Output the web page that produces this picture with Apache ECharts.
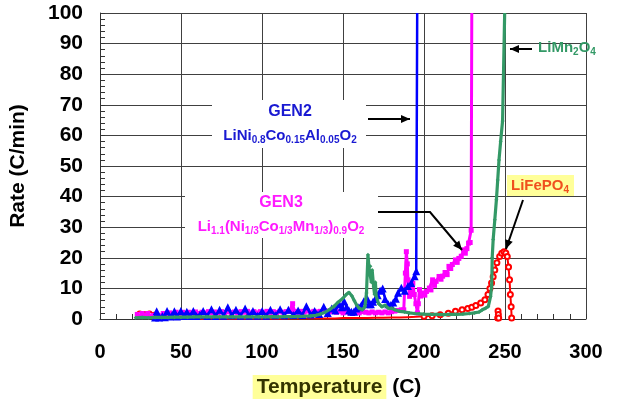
<!DOCTYPE html>
<html><head><meta charset="utf-8">
<script src="https://cdn.jsdelivr.net/npm/echarts@6/dist/echarts.min.js"></script>
<style>html,body{margin:0;padding:0;background:#fff}#c{width:618px;height:408px}</style>
</head><body><div id="c"></div>
<script>
// ---- data (temperature in C, rate in C/min) ----
const xTickValues = [0, 50, 100, 150, 200, 250, 300];
const yTickValues = [0, 10, 20, 30, 40, 50, 60, 70, 80, 90, 100];

const gen2Temp = [34,35,36.5,38.5,40,41.4,43,44.5,45.9,47.5,49.9,51.8,53.6,55.6,57.6,59.6,61.6,63.7,66.2,68.8,71.3,73.8,76.3,78.9,81.4,83.9,86.7,89.6,92,94.4,97.2,100.1,102.6,105.2,108.2,111.2,113.8,116.3,119.3,122.3,124.9,127.4,130,132.5,135.3,138.1,140.6,143,145.3,147.7,149.3,150.7,152.2,153.7,155.2,156.7,158.2,159.8,161.3,162.8,164.8,166,167.2,168.5,169.9,171.4,172.9,174.5,176,178,179.5,181,182.6,184,186,188.1,190.1,192.1,194.2,195.2,195.8];
const gen2Rate = [0.5,2.5,0.5,1,0.6,2.6,0.8,1.2,2.5,0.8,2.6,1,2.4,1,2.6,1,1.4,2.6,1,3.2,1,3,1.1,3.8,1.2,3,1.1,3.4,1.1,2.6,1.1,2.6,1.1,3,1.2,3.2,1.2,3,1.3,2.8,1.3,4.2,1.5,2.6,1.6,4,2,3.4,2.8,4.8,3.8,5.8,4,2.8,2.4,2.4,3.4,3.8,4.5,5.8,6.8,4.8,4.8,5.6,6.5,7.8,9.2,10,6.5,4.8,4.6,5.4,6.6,8.6,10.2,9.2,10.8,11.8,14,15.6,100];

const gen3Temp = [23,25,26,28,29.5,31,33,35,37,39,41,43,45,47,49,51,53,55,57,59,61,63,65,67,69,71,73,75,77,79,81,83,85,87,89,91,93,95,97,99,101,103,105,107,109,111,113,115,117,118.9,120,122,124,126,128,130,132,134,136,138,140,142,144,146,148,150,152,154,156,158,160,162,164,166,168,170,172,174,176,178,180,182,184,186,187.5,188.5,189.1,189.7,190.1,191.1,192,193.1,194,195,196,196.5,197.2,198,199.2,200.5,201.5,203.3,204.3,205.3,206.5,207.5,209.3,210.5,211.5,213,214.3,215.4,216.5,217.5,219.4,220.5,221.5,223,224.5,225.5,226.5,227.5,228.5,229.1,229.5];
const gen3Rate = [1.5,0.8,1.8,1.2,1.8,0.8,1.2,1.5,1,1.8,1.2,2,1.5,2.2,1.5,2.2,1.8,2.2,1.8,2.3,1.8,2.2,2,2.4,2,2.3,2,2.4,2,2.4,2,2.3,2,2.4,2.2,2.5,2,2.4,2,2.4,2.1,2.5,2,2.4,2.1,2.5,2.2,2.4,2.5,5,2.5,2.2,2.5,2.2,2.6,2.2,2.5,2.3,2.5,2.4,2.6,2.4,2.6,2.2,2.5,2,2.4,2,1.8,2.2,2,2.4,2.2,2,2.3,2,2.2,2,2.3,2,2.4,2.6,2.8,3,3,15,22,18,12.8,7.4,9,11.7,8,5,2,5,9.6,7.5,8.5,7.8,9,10.1,9.5,12.8,11,12.3,13.9,13,14,15.2,14.5,17.2,16.5,17.8,19.3,18.5,19.8,20.5,22.6,21.5,23,24.8,25,29,100];

const lfpTemp = [23,24.5,26,27.5,29,30.5,32,33.5,35,37,39,42,46,50,55,60,65,70,75,80,85,90,95,100,105,110,115,120,125,130,135,140,145,150,155,160,165,170,175,180,185,190,195,200,205,210,215,219.4,223.5,227,229.5,232,235,237.6,239.5,240.7,241.7,242.7,243.7,245,246.7,248,249.4,250.5,251.4,252.2,252.8,253.3,253.8,254.1];
const lfpRate = [0.8,1.6,0.6,1.5,0.7,1.6,0.6,1.2,0.5,0.5,0.3,0.2,0.2,0.2,0.2,0.1,0.2,0.1,0.2,0.1,0.2,0.1,0.2,0.1,0.2,0.1,0.2,0.2,0.2,0.2,0.2,0.2,0.2,0.3,0.3,0.3,0.3,0.4,0.4,0.5,0.5,0.6,0.7,0.9,1.1,1.4,1.9,2.5,3,3.4,3.8,4.4,5.2,6.3,8,10,11.8,13.8,16,18.4,20.4,21.5,22,21.6,20.4,17,12.8,8,4,0.3];
const lfpBlobTemp = [245.5,245.7,245.9,246.1];
const lfpBlobRate = [0.3,2.6,1.5,0.3];

const lmoTemp = [22,26,30,34,38,42,46,50,54,58,62,66,70,74,78,82,86,90,94,98,102,106,110,114,118,122,126,130,133.5,136,139,142,144.6,147,150,152,153.7,155.5,157,158.5,160,162,163.5,164.5,165.4,166,166.9,167.5,168,168.9,169.5,170,170.5,172,174,176,178,180,182,185,188,191,194,197,200,204,208,212,216,220,224,228,231,234,236,238,239.7,241.1,241.8,242.1,242.7,243.7,244.7,245.5,246.3,247.3,248.5,249.8];
const lmoRate = [0.4,0.5,0.4,0.5,0.5,0.5,0.6,0.6,0.6,0.7,0.7,0.7,0.7,0.7,0.7,0.7,0.7,0.7,0.7,0.7,0.7,0.8,0.7,0.8,0.8,0.8,0.9,1,1.2,1.6,2.2,3.2,4.2,5.5,6.8,8,8.7,7.5,6,4.5,3.5,3,4,8.5,21,17,17.2,12,16,10.6,8,12,7.4,5,4,4.5,3.5,3.5,3,2.5,2.3,2,1.8,1.7,1.6,1.5,1.5,1.4,1.5,1.5,1.6,1.8,2,2.3,3,3.5,4.1,7.4,11,20,26,32.4,39,45.4,52,58,64.7,100];

function zip(xs, ys) {
  // the last point of a run-away curve leaves the plot: no marker there
  return xs.map((x, i) => (ys[i] >= 100 ? {value: [x, ys[i]], symbol: 'none'} : [x, ys[i]]));
}

const FONT = '"Liberation Sans", Arial, sans-serif';
const chart = echarts.init(document.getElementById('c'), null, {renderer: 'canvas'});

function arrowHead(x1, y1, x2, y2, len, half) {
  const a = Math.atan2(y2 - y1, x2 - x1);
  const bx = x2 - len * Math.cos(a), by = y2 - len * Math.sin(a);
  const px = -Math.sin(a) * half, py = Math.cos(a) * half;
  return {type: 'polygon', z: 101, shape: {points: [[x2, y2], [bx + px, by + py], [bx - px, by - py]]}, style: {fill: '#000'}};
}
function arrowLine(points) {
  const n = points.length;
  return [
    {type: 'polyline', z: 101, shape: {points: points}, style: {stroke: '#000', lineWidth: 2, fill: null}},
    arrowHead(points[n - 2][0], points[n - 2][1], points[n - 1][0], points[n - 1][1], 9, 4)
  ];
}
const mainTok = (c) => ({fill: c, fontSize: 15, fontWeight: 'bold', fontFamily: FONT, lineHeight: 16, verticalAlign: 'top'});
const subTok = (c) => ({fill: c, fontSize: 10, fontWeight: 'bold', fontFamily: FONT, lineHeight: 10, padding: [7, 0, 0, 0], verticalAlign: 'top'});

const blueTxt = '#1a1ad2', magTxt = '#ff1aff', greenTxt = '#339966', lfpTxt = '#f0501e';

const graphics = [
  {type: 'rect', z: 100, shape: {x: 212, y: 100, width: 154, height: 48}, style: {fill: '#fff'}},
  {type: 'rect', z: 100, shape: {x: 185, y: 192, width: 193, height: 46}, style: {fill: '#fff'}},
  {type: 'text', z: 101, x: 290, y: 112, style: {text: 'GEN2', font: 'bold 16px ' + FONT, fill: blueTxt, align: 'center', verticalAlign: 'middle'}},
  {type: 'text', z: 101, x: 290, y: 136, style: {text: '{a|LiNi}{s|0.8}{a|Co}{s|0.15}{a|Al}{s|0.05}{a|O}{s|2}', align: 'center', verticalAlign: 'middle', rich: {a: mainTok(blueTxt), s: subTok(blueTxt)}}},
  {type: 'text', z: 101, x: 281, y: 203, style: {text: 'GEN3', font: 'bold 16px ' + FONT, fill: magTxt, align: 'center', verticalAlign: 'middle'}},
  {type: 'text', z: 101, x: 281, y: 227, style: {text: '{a|Li}{s|1.1}{a|(Ni}{s|1/3}{a|Co}{s|1/3}{a|Mn}{s|1/3}{a|)}{s|0.9}{a|O}{s|2}', align: 'center', verticalAlign: 'middle', rich: {a: mainTok(magTxt), s: subTok(magTxt)}}},
  {type: 'text', z: 101, x: 567, y: 48, style: {text: '{a|LiMn}{s|2}{a|O}{s|4}', align: 'center', verticalAlign: 'middle', rich: {a: mainTok(greenTxt), s: subTok(greenTxt)}}},
  {type: 'rect', z: 100, shape: {x: 507, y: 175, width: 67, height: 21}, style: {fill: '#ffff99'}},
  {type: 'text', z: 101, x: 540, y: 186, style: {text: '{a|LiFePO}{s|4}', align: 'center', verticalAlign: 'middle', rich: {a: mainTok(lfpTxt), s: subTok(lfpTxt)}}},
  {type: 'text', z: 101, x: 337, y: 387, style: {text: '{h|Temperature}{n| (C)}', align: 'center', verticalAlign: 'middle', rich: {
    h: {fill: '#333300', backgroundColor: '#ffff99', fontSize: 21, fontWeight: 'bold', fontFamily: FONT, padding: [2, 4, 1, 4]},
    n: {fill: '#000', fontSize: 21, fontWeight: 'bold', fontFamily: FONT}
  }}}
].concat(
  arrowLine([[368, 119], [410, 119]]),
  arrowLine([[378, 212], [430, 212], [462, 250]]),
  arrowLine([[532, 49], [510, 49]]),
  arrowLine([[523, 200], [506, 249]])
);

// red markers sit under the green trace near the axis; only show them where the curve lifts off
const lfpSymbolSize = (v) => (v[1] < 1 && v[0] < 200 ? 0 : 5);

const option = {
  animation: false,
  backgroundColor: '#fff',
  grid: {left: 92, right: 32, top: 13, bottom: 89, containLabel: false},
  xAxis: {
    type: 'value', min: xTickValues[0], max: xTickValues[xTickValues.length - 1], interval: 50,
    axisLine: {show: true, onZero: false, lineStyle: {color: '#333', width: 1}},
    axisTick: {show: true, inside: true, length: 5, lineStyle: {color: '#333'}},
    minorTick: {show: true, splitNumber: 5, length: 5, lineStyle: {color: '#333'}},
    splitLine: {show: true, lineStyle: {color: '#404040', width: 1}},
    axisLabel: {fontSize: 20, fontWeight: 'bold', color: '#000', fontFamily: FONT, margin: 23}
  },
  yAxis: {
    type: 'value', min: yTickValues[0], max: yTickValues[yTickValues.length - 1], interval: 10,
    name: 'Rate (C/min)', nameLocation: 'middle', nameGap: 71, nameRotate: 90,
    nameTextStyle: {fontSize: 21, fontWeight: 'bold', color: '#000', fontFamily: FONT},
    axisLine: {show: true, lineStyle: {color: '#333', width: 1}},
    axisTick: {show: true, inside: true, length: 5, lineStyle: {color: '#333'}},
    minorTick: {show: true, splitNumber: 5, length: 5, lineStyle: {color: '#333'}},
    splitLine: {show: true, lineStyle: {color: '#404040', width: 1}},
    axisLabel: {fontSize: 21, fontWeight: 'bold', color: '#000', fontFamily: FONT, margin: 17}
  },
  series: [
    {type: 'line', name: 'LiFePO4', z: 2, data: zip(lfpTemp, lfpRate), color: '#ff0000', lineStyle: {width: 2}, symbol: 'emptyCircle', symbolSize: lfpSymbolSize, showAllSymbol: true, clip: true, itemStyle: {borderWidth: 1.5}},
    {type: 'line', name: 'LiFePO4b', z: 2, data: zip(lfpBlobTemp, lfpBlobRate), color: '#ff0000', lineStyle: {width: 2}, symbol: 'emptyCircle', symbolSize: 5, showAllSymbol: true, clip: true, itemStyle: {borderWidth: 1.5}},
    {type: 'line', name: 'GEN3', z: 3, data: zip(gen3Temp, gen3Rate), color: '#ff00ff', lineStyle: {width: 3}, symbol: 'rect', symbolSize: 5, showAllSymbol: true, clip: true},
    {type: 'line', name: 'GEN2', z: 4, data: zip(gen2Temp, gen2Rate), color: '#0000ff', lineStyle: {width: 2.5}, symbol: 'triangle', symbolSize: 8, showAllSymbol: true, clip: true},
    {type: 'line', name: 'LiMn2O4', z: 5, data: zip(lmoTemp, lmoRate), color: '#339966', lineStyle: {width: 3.2}, symbol: 'diamond', symbolSize: 4, showAllSymbol: true, clip: true}
  ],
  graphic: graphics
};
chart.setOption(option);
</script></body></html>
